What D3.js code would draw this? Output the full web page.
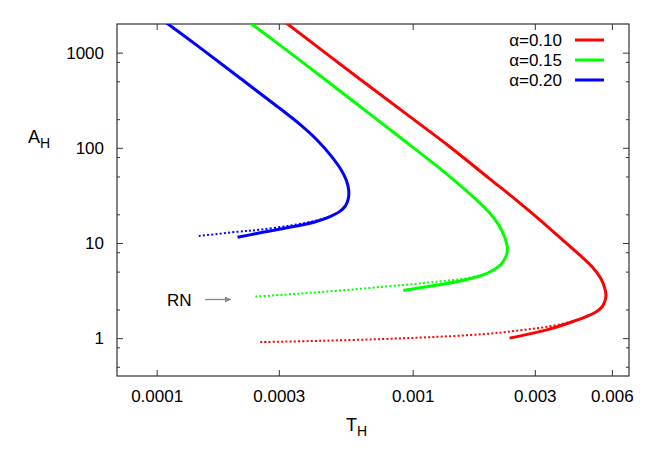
<!DOCTYPE html>
<html>
<head>
<meta charset="utf-8">
<script src="https://cdn.jsdelivr.net/npm/d3@7"></script>
<style>
  html, body { margin: 0; padding: 0; background: #fff; }
  svg { display: block; font-family: "Liberation Sans", Arial, Helvetica, sans-serif; }
</style>
</head>
<body>
<svg id="chart" width="659" height="461"></svg>
<script>
// ---- data (T_H, A_H) ----
const seriesNames = ["α=0.10", "α=0.15", "α=0.20"];
const seriesColors = ["#ff0000", "#00ff00", "#0000ff"];

const solid010 = [[3.17e-4,2100],[6.23e-4,525],[1.005e-3,200],[1.40e-3,102],[2.0e-3,47.2],[2.54e-3,28.2],[3.13e-3,17.6],[3.86e-3,10.7],[4.49e-3,7.48],[5.05e-3,5.53],[5.42e-3,4.29],[5.61e-3,3.45],[5.69e-3,2.85],[5.64e-3,2.46],[5.51e-3,2.15],[5.22e-3,1.89],[4.78e-3,1.69],[4.10e-3,1.45],[3.34e-3,1.22],[2.39e-3,1.0]];
const dotted010 = [[2.54e-4,0.908],[4.35e-4,0.937],[7.46e-4,0.976],[1.168e-3,1.024],[1.884e-3,1.101],[2.618e-3,1.207],[3.427e-3,1.33],[4.289e-3,1.519],[4.906e-3,1.722]];

const solid015 = [[2.29e-4,2100],[3.04e-4,1193],[4.35e-4,571],[6.23e-4,272],[8.92e-4,129],[1.28e-3,60.4],[1.78e-3,28.2],[2.0e-3,20.6],[2.17e-3,15.4],[2.28e-3,11.8],[2.34e-3,9.29],[2.34e-3,8.04],[2.30e-3,6.96],[2.22e-3,6.02],[2.07e-3,5.21],[1.86e-3,4.56],[1.57e-3,4.04],[1.22e-3,3.58],[9.19e-4,3.16]];
const dotted015 = [[2.43e-4,2.73],[3.64e-4,2.94],[5.70e-4,3.23],[9.19e-4,3.62],[1.278e-3,3.94],[1.598e-3,4.24],[1.912e-3,4.67]];

const solid020 = [[1.08e-4,2100],[1.48e-4,1123],[2.12e-4,538],[3.04e-4,257],[3.64e-4,175],[4.24e-4,120],[4.81e-4,81.7],[5.26e-4,58.3],[5.52e-4,44.7],[5.63e-4,35.1],[5.60e-4,28.9],[5.47e-4,24.7],[5.21e-4,21.6],[4.76e-4,18.95],[4.23e-4,16.92],[3.64e-4,15.32],[3.13e-4,14.18],[2.54e-4,12.79],[2.07e-4,11.47]];
const dotted020 = [[1.461e-4,11.83],[2.063e-4,13.1],[2.54e-4,13.81],[3.327e-4,15.25],[4.16e-4,17.08],[4.76e-4,19.05],[5.21e-4,21.5]];

const xTickValues = [0.0001, 0.0003, 0.001, 0.003, 0.006];
const xTickLabels = ["0.0001", "0.0003", "0.001", "0.003", "0.006"];
const yTickValues = [1, 10, 100, 1000];
const yTickLabels = ["1", "10", "100", "1000"];
const yMinorValues = [0.5, 0.8, 2, 5, 8, 20, 50, 80, 200, 500, 800];

const xDomain = [7.0e-5, 7.0e-3];
const yDomain = [0.4, 2000];

// ---- layout ----
const svg = d3.select("#chart");
const L = 117, R = 629, T = 24, B = 376;
const x = d3.scaleLog().domain(xDomain).range([L, R]);
const y = d3.scaleLog().domain(yDomain).range([B, T]);

const axisColor = "#333";

svg.append("defs").append("clipPath").attr("id", "clip")
  .append("rect").attr("x", L).attr("y", T).attr("width", R - L).attr("height", B - T);

// axes with inward ticks (mirrored)
const bottomAxis = d3.axisBottom(x).tickValues(xTickValues).tickSize(-6).tickPadding(14)
  .tickFormat((d, i) => xTickLabels[i]);
const topAxis = d3.axisTop(x).tickValues(xTickValues).tickSize(-6).tickFormat("");
const leftAxis = d3.axisLeft(y).tickValues(yTickValues).tickSize(-6).tickPadding(13)
  .tickFormat((d, i) => yTickLabels[i]);
const rightAxis = d3.axisRight(y).tickValues(yTickValues).tickSize(-6).tickFormat("");
const leftMinor = d3.axisLeft(y).tickValues(yMinorValues).tickSize(-3).tickFormat("");
const rightMinor = d3.axisRight(y).tickValues(yMinorValues).tickSize(-3).tickFormat("");

function styleAxis(g) {
  g.select(".domain").remove();
  g.selectAll("line").attr("stroke", axisColor).attr("stroke-width", 1);
  g.selectAll("text").attr("fill", "#000").style("font-size", "17px")
    .style("font-family", '"Liberation Sans", Arial, sans-serif');
}

svg.append("g").attr("transform", `translate(0,${B})`).call(bottomAxis).call(styleAxis);
svg.append("g").attr("transform", `translate(0,${T})`).call(topAxis).call(styleAxis);
svg.append("g").attr("transform", `translate(${L},0)`).call(leftAxis).call(styleAxis);
svg.append("g").attr("transform", `translate(${R},0)`).call(rightAxis).call(styleAxis);
svg.append("g").attr("transform", `translate(${L},0)`).call(leftMinor).call(styleAxis);
svg.append("g").attr("transform", `translate(${R},0)`).call(rightMinor).call(styleAxis);

// frame
svg.append("rect").attr("x", L).attr("y", T).attr("width", R - L).attr("height", B - T)
  .attr("fill", "none").attr("stroke", axisColor).attr("stroke-width", 1.2);

// curves
const line = d3.line().x(d => x(d[0])).y(d => y(d[1])).curve(d3.curveCatmullRom.alpha(0.5));
const plot = svg.append("g").attr("clip-path", "url(#clip)");

const dottedSets = [dotted010, dotted015, dotted020];
const solidSets = [solid010, solid015, solid020];

dottedSets.forEach((data, i) => {
  plot.append("path").datum(data).attr("d", line)
    .attr("fill", "none").attr("stroke", seriesColors[i])
    .attr("stroke-width", 2).attr("stroke-dasharray", "2,2.2");
});
solidSets.forEach((data, i) => {
  plot.append("path").datum(data).attr("d", line)
    .attr("fill", "none").attr("stroke", seriesColors[i])
    .attr("stroke-width", 3).attr("stroke-linejoin", "round");
});

// legend
const legend = svg.append("g");
seriesNames.forEach((name, i) => {
  const yy = 40 + i * 20;
  legend.append("text").attr("x", 562).attr("y", yy).attr("dy", "0.35em")
    .attr("text-anchor", "end").style("font-size", "17px").text(name);
  legend.append("line").attr("x1", 575).attr("x2", 604).attr("y1", yy).attr("y2", yy)
    .attr("stroke", seriesColors[i]).attr("stroke-width", 3);
});

// axis titles
const yt = svg.append("text").attr("x", 28).attr("y", 143).style("font-size", "18px");
yt.append("tspan").text("A");
yt.append("tspan").attr("dy", 5).style("font-size", "14px").text("H");

const xt = svg.append("text").attr("x", 346).attr("y", 431).style("font-size", "18px");
xt.append("tspan").text("T");
xt.append("tspan").attr("dy", 5).style("font-size", "14px").text("H");

// RN annotation
svg.append("defs").append("marker").attr("id", "arrow").attr("viewBox", "0 0 10 10")
  .attr("refX", 10).attr("refY", 5).attr("markerWidth", 9).attr("markerHeight", 6)
  .attr("markerUnits", "userSpaceOnUse").attr("orient", "auto")
  .append("path").attr("d", "M0,0 L10,5 L0,10 Z").attr("fill", "#888");
svg.append("text").attr("x", 167).attr("y", 300).attr("dy", "0.35em")
  .style("font-size", "17px").text("RN");
svg.append("line").attr("x1", 205).attr("x2", 231).attr("y1", 299.5).attr("y2", 299.5)
  .attr("stroke", "#888").attr("stroke-width", 1.3).attr("marker-end", "url(#arrow)");
</script>
</body>
</html>
